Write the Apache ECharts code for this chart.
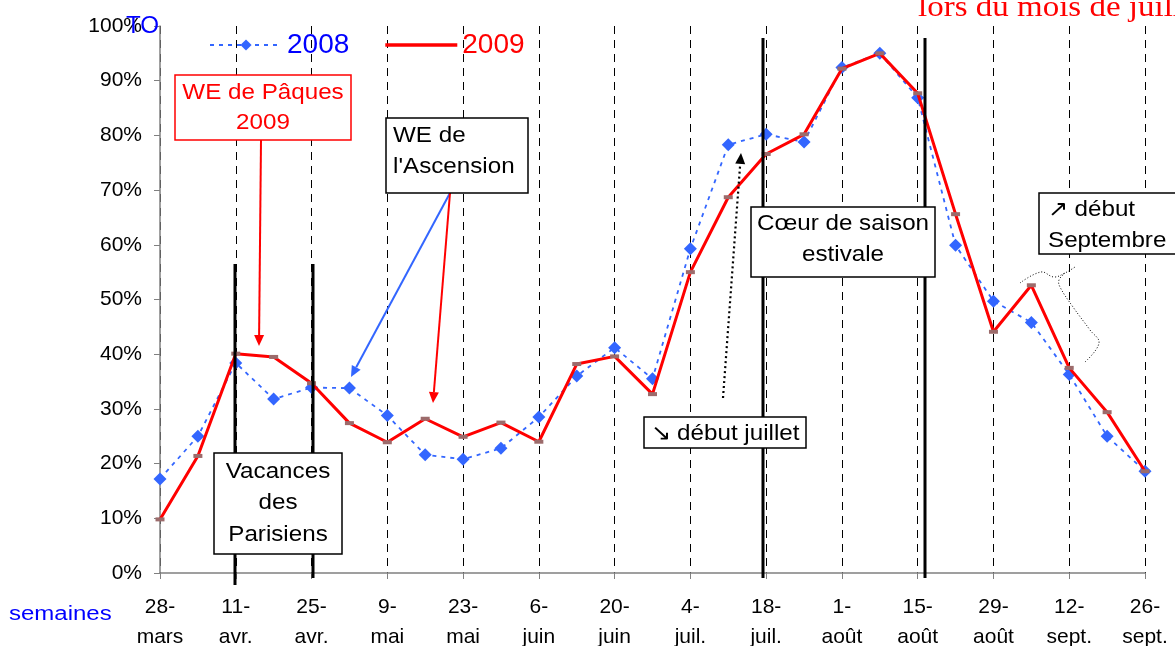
<!DOCTYPE html>
<html>
<head>
<meta charset="utf-8">
<style>
html, body { margin: 0; padding: 0; background: #fff; }
#myChart { width: 1175px; height: 646px; }
</style>
<script src="https://cdn.jsdelivr.net/npm/echarts@6/dist/echarts.min.js"></script>
</head>
<body>
<div id="myChart"></div>
<script>
// semaines (une valeur par semaine, étiquette toutes les 2 semaines)
var weeks = ['28-mars', '4-avr.', '11-avr.', '18-avr.', '25-avr.', '2-mai', '9-mai', '16-mai', '23-mai',
  '30-mai', '6-juin', '13-juin', '20-juin', '27-juin', '4-juil.', '11-juil.', '18-juil.', '25-juil.',
  '1-août', '8-août', '15-août', '22-août', '29-août', '5-sept.', '12-sept.', '19-sept.', '26-sept.']
// taux d'occupation (TO), en %
var to2008 = [17.2, 25.0, 38.4, 31.8, 33.9, 33.8, 28.8, 21.6, 20.8, 22.8, 28.5, 36.0, 41.2, 35.5,
  59.3, 78.3, 80.2, 78.8, 92.4, 95.0, 86.9, 59.9, 49.7, 45.8, 36.3, 25.0, 18.6]
var to2009 = [9.8, 21.4, 40.1, 39.5, 34.7, 27.4, 23.9, 28.2, 24.9, 27.5, 24.0, 38.2, 39.6, 32.7,
  55.0, 68.7, 76.6, 80.2, 92.2, 95.0, 87.7, 65.6, 44.1, 52.6, 37.5, 29.4, 18.6]
var yTicks = [0, 10, 20, 30, 40, 50, 60, 70, 80, 90, 100]

var FONT = 'Liberation Sans, Arial, sans-serif'

// petites aides pour les annotations
function box (x, y, w, h, color) {
  return {
    type: 'rect', z: 20,
    shape: { x: x, y: y, width: w, height: h },
    style: { fill: '#fff', stroke: color || '#000', lineWidth: 1.5 }
  }
}
function label (x, y, text, opt) {
  opt = opt || {}
  return {
    type: 'text', z: 21, x: x, y: y,
    scaleX: opt.sx || 1.1,
    style: {
      text: text,
      font: (opt.size || 22) + 'px ' + (opt.family || FONT),
      fill: opt.color || '#000',
      align: opt.align || 'center',
      verticalAlign: 'middle'
    }
  }
}
function vline (x, y1, y2) {
  return {
    type: 'line', z: 15,
    shape: { x1: x, y1: y1, x2: x, y2: y2 },
    style: { stroke: '#000', lineWidth: 3 }
  }
}
function arrow (pts, color, dash, width) {
  var n = pts.length
  var a = pts[n - 2], b = pts[n - 1]
  var ang = Math.atan2(b[1] - a[1], b[0] - a[0])
  var L = 11, W = 5
  var bx = b[0] - L * Math.cos(ang), by = b[1] - L * Math.sin(ang)
  var head = [b,
    [bx + W * Math.sin(ang), by - W * Math.cos(ang)],
    [bx - W * Math.sin(ang), by + W * Math.cos(ang)]]
  var line = pts.slice(0, n - 1).concat([[bx, by]])
  return [
    {
      type: 'polyline', z: 16,
      shape: { points: line },
      style: { stroke: color, lineWidth: width || 2, lineDash: dash || null, fill: null }
    },
    {
      type: 'polygon', z: 16,
      shape: { points: head },
      style: { fill: color }
    }
  ]
}

var graphics = [
  vline(235, 264, 585), vline(313, 264, 578), vline(763, 38, 578), vline(925, 38, 578),
  // WE de Pâques
  box(175, 75, 176, 65, '#ff0000'),
  label(263, 93, 'WE de Pâques', { color: '#ff0000' }),
  label(263, 123, '2009', { color: '#ff0000' }),
  // WE de l'Ascension
  box(386, 118, 142, 75),
  label(393, 136, 'WE de', { align: 'left' }),
  label(393, 167, "l'Ascension", { align: 'left' }),
  // Vacances des Parisiens
  box(214, 453, 128, 101),
  label(278, 472, 'Vacances'),
  label(278, 503, 'des'),
  label(278, 535, 'Parisiens'),
  // Coeur de saison
  box(751, 207, 184, 70),
  label(843, 224, 'Cœur de saison'),
  label(843, 255, 'estivale'),
  // début juillet
  box(644, 417, 162, 31),
  label(725, 434, '↘ début juillet'),
  // début Septembre
  box(1039, 193, 140, 61),
  label(1048, 210, '↗ début', { align: 'left' }),
  label(1048, 241, 'Septembre', { align: 'left' }),
  // accolade pointillée
  {
    type: 'polyline', z: 16,
    shape: { smooth: 0.4, points: [[1020, 283], [1041, 272], [1054, 277], [1065, 273], [1075, 267]] },
    style: { stroke: '#000', lineWidth: 1, lineDash: [1, 2], fill: null }
  },
  {
    type: 'polyline', z: 16,
    shape: { smooth: 0.4, points: [[1065, 273], [1059, 280], [1060, 287], [1073, 307], [1090, 330], [1099, 343], [1085, 362]] },
    style: { stroke: '#000', lineWidth: 1, lineDash: [1, 2], fill: null }
  },
  // textes libres
  label(126, 27, 'TO', { color: '#0000ff', align: 'left', size: 23, sx: 1.05 }),
  label(9, 614, 'semaines', { color: '#0000ff', align: 'left', size: 20, sx: 1.2 }),
  label(918, 8, 'lors du mois de juillet', { color: '#ff0000', align: 'left', size: 30, sx: 1.1, family: 'cursive' })
]
graphics = graphics
  .concat(arrow([[261, 140], [259, 346]], '#ff0000', null, 2))
  .concat(arrow([[450, 193], [351, 377]], '#3366ff', null, 2))
  .concat(arrow([[450, 193], [433, 403]], '#ff0000', null, 2))
  .concat(arrow([[723, 398], [741, 153]], '#000', [2, 3], 2.2))

var myChart = echarts.init(document.getElementById('myChart'))
myChart.setOption({
  animation: false,
  backgroundColor: '#fff',
  textStyle: { fontFamily: FONT },
  grid: {
    left: 160, right: 30, top: 26, bottom: 73,
    containLabel: false,
    outerBoundsMode: 'none'
  },
  legend: {
    left: 204, top: 26,
    itemWidth: 72, itemHeight: 14, itemGap: 36,
    textStyle: { fontSize: 28 },
    data: [
      { name: '2008', textStyle: { color: '#0000ff' } },
      {
        name: '2009',
        icon: 'path://M0,0 H80 V4 H0 Z',
        itemStyle: { color: '#ff0000' },
        textStyle: { color: '#ff0000' }
      }
    ]
  },
  xAxis: {
    type: 'category',
    boundaryGap: false,
    data: weeks,
    axisLine: { lineStyle: { color: '#808080', width: 1.5 } },
    axisTick: { interval: 1, length: 6, lineStyle: { color: '#808080' } },
    axisLabel: {
      interval: 1, margin: 19, color: '#000', fontSize: 21, lineHeight: 30,
      formatter: function (v) { return v.replace('-', '-\n') }
    },
    splitLine: {
      show: true, interval: 1,
      lineStyle: { color: '#000', type: [8, 6], width: 1 }
    }
  },
  yAxis: {
    type: 'value',
    min: yTicks[0], max: yTicks[yTicks.length - 1], interval: 10,
    axisLine: { show: true, lineStyle: { color: '#808080', width: 1.5 } },
    axisTick: { show: true, length: 6, lineStyle: { color: '#808080' } },
    axisLabel: { margin: 18, color: '#000', fontSize: 21, formatter: '{value}%' },
    splitLine: { show: false }
  },
  graphic: graphics,
  series: [
    {
      name: '2008',
      type: 'line',
      data: to2008,
      symbol: 'diamond',
      symbolSize: 13,
      itemStyle: { color: '#3366ff' },
      lineStyle: { color: '#3366ff', width: 1.8, type: [4, 5] },
      z: 3
    },
    {
      name: '2009',
      type: 'line',
      data: to2009,
      symbol: 'rect',
      symbolSize: [9, 4],
      itemStyle: { color: '#9c6b6b' },
      lineStyle: { color: '#ff0000', width: 3 },
      z: 4
    }
  ]
})
</script>
</body>
</html>
